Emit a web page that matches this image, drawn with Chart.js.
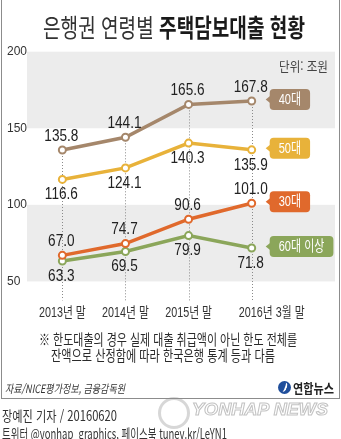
<!DOCTYPE html>
<html lang="ko">
<head>
<meta charset="utf-8">
<title>은행권 연령별 주택담보대출 현황</title>
<script src="https://cdn.jsdelivr.net/npm/chart.js@4/dist/chart.umd.min.js"></script>
<style>
  html, body { margin: 0; padding: 0; background: #fff; }
  body {
    width: 341px; height: 439px; position: relative; overflow: hidden;
    font-family: "Noto Sans CJK KR", "Liberation Sans", sans-serif; color: #333;
  }
  #frame {
    position: absolute; left: 1px; top: -1px; width: 337px; height: 398px;
    border: 1px solid #8c8c8c;
  }
  #chart { position: absolute; left: 0; top: 0; }
  .txt { position: absolute; white-space: nowrap; line-height: 1; transform-origin: 0 0; }
  #title { font-size: 25px; color: #333; }
  #title b { color: #1a1a1a; font-weight: 700; }
  #unit { font-size: 13px; color: #444; }
  .note { font-size: 14.5px; color: #2a2a2a; }
  #source { font-size: 11.5px; font-style: italic; color: #333; }
  #logoText { font-size: 13px; font-weight: 700; color: #222; }
  .credit { font-size: 14px; color: #333; }
  #wmText {
    font-size: 17px; font-weight: 700; font-style: italic; font-family: "Liberation Sans", sans-serif;
    color: rgba(255, 255, 255, 0.7); -webkit-text-stroke: 1px rgba(120, 120, 120, 0.45);
  }
  #wmRing {
    position: absolute; left: 158px; top: 397px; width: 26px; height: 26px;
    border: 3px solid rgba(140, 140, 140, 0.35); border-radius: 50%;
  }
  #logoIcon {
    position: absolute; left: 278px; top: 381px; width: 13px; height: 13px;
    background: #1f4e9b; border-radius: 50%; overflow: hidden;
  }
  #logoIcon::after {
    content: ""; position: absolute; left: 3px; top: 1px; width: 4px; height: 10px;
    border-right: 2px solid #fff; border-radius: 50%; transform: rotate(20deg);
  }
</style>
</head>
<body>
<div id="frame"></div>
<canvas id="chart" width="341" height="439"></canvas>

<div class="txt fit" id="title" data-x="43" data-y="26" data-w="262">은행권 연령별 <b>주택담보대출 현황</b></div>
<div class="txt fit" id="unit" data-x="279" data-y="65" data-w="49">단위: 조원</div>
<div class="txt fit note" data-x="39" data-y="339" data-w="258">※ 한도대출의 경우 실제 대출 취급액이 아닌 한도 전체를</div>
<div class="txt fit note" data-x="51" data-y="355" data-w="224">잔액으로 산정함에 따라 한국은행 통계 등과 다름</div>
<div class="txt fit" id="source" data-x="5" data-y="389" data-w="120">자료/NICE평가정보, 금융감독원</div>
<div id="logoIcon"></div>
<div class="txt fit" id="logoText" data-x="293" data-y="387" data-w="41">연합뉴스</div>
<div id="wmRing"></div>
<div class="txt fit" id="wmText" data-x="192" data-y="409" data-w="136">YONHAP NEWS</div>
<div class="txt fit credit" data-x="2" data-y="415" data-w="115">장예진 기자 / 20160620</div>
<div class="txt fit credit" data-x="2" data-y="433" data-w="225">트위터 @yonhap_graphics, 페이스북 tuney.kr/LeYN1</div>

<script>
// 연령별 주택담보대출 잔액 (단위: 조원)
const periods = ["2013년 말", "2014년 말", "2015년 말", "2016년 3월 말"];
const ageGroups = ["40대", "50대", "30대", "60대 이상"];
const loans40s = [135.8, 144.1, 165.6, 167.8];
const loans50s = [116.6, 124.1, 140.3, 135.9];
const loans30s = [67.0, 74.7, 90.6, 101.0];
const loans60s = [63.3, 69.5, 79.9, 71.8];
const yTicks = [50, 100, 150, 200];

const seriesValues = [loans40s, loans50s, loans30s, loans60s];
const seriesColors = ["#a5876b", "#e8b23a", "#e0692c", "#8ba65a"];
const labelAbove = [true, false, true, false];

const NUM_FONT = "'Liberation Sans', 'Noto Sans CJK KR', sans-serif";

// 글자를 가로로 좁혀서 그리기
function drawNarrow(ctx, text, x, y, sx, align) {
    ctx.save();
    ctx.translate(x, y);
    ctx.scale(sx, 1);
    ctx.textAlign = align || "center";
    ctx.textBaseline = "middle";
    ctx.fillText(text, 0, 0);
    ctx.restore();
}

// 회색 띠와 점선 안내선
const backgroundPlugin = {
    id: "bands",
    beforeDatasetsDraw(chart) {
        const { ctx, chartArea, scales } = chart;
        const y = scales.y;
        ctx.save();
        ctx.fillStyle = "#ececec";
        [[150, 200], [50, 100]].forEach(([lo, hi]) => {
            const top = y.getPixelForValue(hi);
            ctx.fillRect(chartArea.left, top, chartArea.right - chartArea.left, y.getPixelForValue(lo) - top);
        });

        ctx.strokeStyle = "#8a8a8a";
        ctx.lineWidth = 1;
        ctx.setLineDash([1, 2]);
        periods.forEach((p, j) => {
            let top = Infinity;
            chart.data.datasets.forEach((ds, i) => {
                top = Math.min(top, chart.getDatasetMeta(i).data[j].y);
            });
            const x = Math.round(scales.x.getPixelForValue(j)) + 0.5;
            ctx.beginPath();
            ctx.moveTo(x, top);
            ctx.lineTo(x, chartArea.bottom + 19);
            ctx.stroke();
        });
        ctx.restore();
    },
};

// 값 라벨과 오른쪽 연령대 꼬리표
const labelPlugin = {
    id: "labels",
    afterDatasetsDraw(chart) {
        const { ctx } = chart;
        ctx.save();
        chart.data.datasets.forEach((ds, i) => {
            const points = chart.getDatasetMeta(i).data;
            ctx.fillStyle = "#222";
            ctx.font = "17px " + NUM_FONT;
            points.forEach((pt, j) => {
                const dy = ds.labelAbove ? -14 : 15;
                drawNarrow(ctx, seriesValues[i][j].toFixed(1), pt.x - 1, pt.y + dy, 0.8);
            });

            // 꼬리표
            const last = points[points.length - 1];
            const cy = last.y - 1.5;
            ctx.font = "14.5px " + NUM_FONT;
            const w = ctx.measureText(ds.label).width * 0.76 + 18;
            const left = last.x + 18;
            ctx.fillStyle = ds.borderColor;
            ctx.beginPath();
            ctx.roundRect(left, cy - 10.5, w, 21, 4);
            ctx.fill();
            ctx.beginPath();
            ctx.moveTo(last.x + 14, cy);
            ctx.lineTo(left + 1, cy - 4);
            ctx.lineTo(left + 1, cy + 4);
            ctx.closePath();
            ctx.fill();
            ctx.fillStyle = "#fff";
            drawNarrow(ctx, ds.label, left + w / 2, cy + 0.5, 0.76);
        });
        ctx.restore();
    },
};

// 가로축 기간 라벨
const periodPlugin = {
    id: "periods",
    afterDraw(chart) {
        const { ctx, scales, chartArea } = chart;
        ctx.save();
        ctx.fillStyle = "#333";
        ctx.font = "14px " + NUM_FONT;
        periods.forEach((p, j) => {
            const shift = j === periods.length - 1 ? 20 : 0;
            drawNarrow(ctx, p, scales.x.getPixelForValue(j) + shift, chartArea.bottom + 32, 0.77);
        });
        ctx.restore();
    },
};

const datasets = seriesValues.map((values, i) => ({
    label: ageGroups[i],
    data: values.map((v, j) => ({ x: j, y: v })),
    borderColor: seriesColors[i],
    backgroundColor: seriesColors[i],
    borderWidth: 3.5,
    pointRadius: 3.5,
    pointBorderWidth: 2,
    pointBackgroundColor: "#fff",
    pointBorderColor: seriesColors[i],
    labelAbove: labelAbove[i],
}));

new Chart(document.getElementById("chart"), {
    type: "line",
    data: { datasets },
    options: {
        responsive: false,
        animation: false,
        devicePixelRatio: 1,
        layout: { padding: { left: 7, right: 6, top: 51.7, bottom: 157.6 } },
        plugins: { legend: { display: false }, tooltip: { enabled: false } },
        scales: {
            x: { type: "linear", min: -0.56, max: 4.32, display: false },
            y: {
                min: 50,
                max: 200,
                afterBuildTicks: (scale) => {
                    scale.ticks = yTicks.map((v) => ({ value: v }));
                },
                afterFit: (scale) => {
                    scale.width = 20;
                },
                grid: { display: false, drawTicks: false },
                border: { display: false },
                ticks: {
                    padding: 0,
                    crossAlign: "far",
                    color: "#333",
                    font: { family: "'Liberation Sans Narrow', 'Liberation Sans', sans-serif", size: 12 },
                },
            },
        },
    },
    plugins: [backgroundPlugin, labelPlugin, periodPlugin],
});

// 차트 밖 글자들을 정해진 폭에 맞춤
document.querySelectorAll(".fit").forEach((el) => {
    const natural = el.getBoundingClientRect().width;
    el.style.left = el.dataset.x + "px";
    el.style.top = (el.dataset.y - el.offsetHeight / 2) + "px";
    el.style.transform = `scaleX(${el.dataset.w / natural})`;
});
</script>
</body>
</html>
